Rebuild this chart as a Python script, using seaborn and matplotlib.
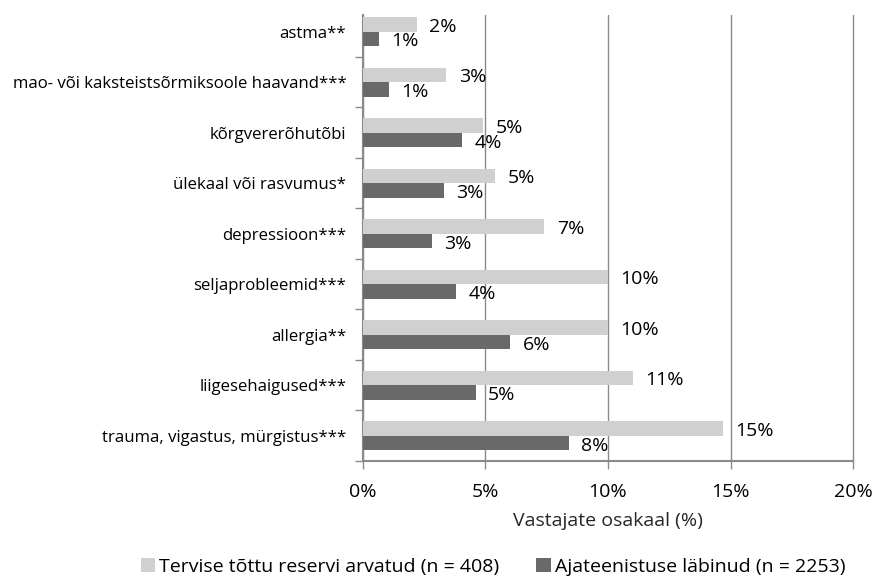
import matplotlib
matplotlib.use("Agg")
import matplotlib.pyplot as plt
import seaborn as sns
import pandas as pd
from matplotlib.patches import Patch
from matplotlib.ticker import FixedLocator, FuncFormatter

categories = [
    "astma**",
    "mao- või kaksteistsõrmiksoole haavand***",
    "kõrgvererõhutõbi",
    "ülekaal või rasvumus*",
    "depressioon***",
    "seljaprobleemid***",
    "allergia**",
    "liigesehaigused***",
    "trauma, vigastus, mürgistus***",
]
reserve = [2.2, 3.4, 4.9, 5.4, 7.4, 10.0, 10.0, 11.0, 14.7]
served = [0.65, 1.05, 4.05, 3.3, 2.8, 3.8, 6.0, 4.6, 8.4]
series = ["Tervise tõttu reservi arvatud (n = 408)", "Ajateenistuse läbinud (n = 2253)"]
colors = ["#d0d0d0", "#696969"]
xticks = [0, 5, 10, 15, 20]

df = pd.DataFrame({
    "kategooria": categories * 2,
    "grupp": [series[0]] * len(categories) + [series[1]] * len(categories),
    "osakaal": reserve + served,
})

sns.set_style("white")
plt.rcParams["font.family"] = ["Open Sans", "DejaVu Sans"]
plt.rcParams["text.color"] = "black"

fig, ax = plt.subplots(figsize=(8.78, 5.81), dpi=100)
fig.subplots_adjust(left=363 / 878, right=853 / 878, top=1 - 15 / 581, bottom=1 - 461 / 581)

sns.barplot(data=df, y="kategooria", x="osakaal", hue="grupp", order=categories,
            hue_order=series, palette=colors, width=0.58, orient="h",
            linewidth=0, ax=ax, legend=False, zorder=3)

for cont, vals in zip(ax.containers, [reserve, served]):
    texts = ax.bar_label(cont, labels=[f"{round(v):.0f}%" for v in vals], padding=9,
                         fontsize=14, color="black")
    for t in texts:
        t.xyann = (9, -1.8)  # Excel puts the labels a little below the bar centre

ax.set_xlim(0, 20)
ax.set_ylim(8.5, -0.33)
ax.xaxis.set_major_locator(FixedLocator(xticks))
ax.xaxis.set_major_formatter(FuncFormatter(lambda v, p: f"{v:.0f}%"))
ax.grid(axis="x", color="#8a8a8a", linewidth=1, zorder=0)
ax.grid(axis="y", visible=False)
for gl in ax.get_xgridlines():
    gl.set_clip_on(False)

ax.set_yticks(range(len(categories)))
ax.set_yticklabels(categories)
ax.yaxis.set_minor_locator(FixedLocator([i + 0.5 for i in range(-1, len(categories))]))
ax.tick_params(axis="y", which="major", length=0, pad=12, labelsize=12.1, labelcolor="black")
ax.tick_params(axis="y", which="minor", length=6, width=1, color="#8a8a8a", direction="out", left=True)
ax.tick_params(axis="x", which="major", length=6, width=1, color="#8a8a8a", direction="out",
               bottom=True, pad=10, labelsize=14, labelcolor="black")

for side in ["top", "right"]:
    ax.spines[side].set_visible(False)
for side in ["left", "bottom"]:
    ax.spines[side].set_color("#8a8a8a")
    ax.spines[side].set_linewidth(1.5)

ax.set_ylabel("")
ax.set_xlabel("Vastajate osakaal (%)", fontsize=14, labelpad=8)

handles = [Patch(facecolor=c, edgecolor="none") for c in colors]
fig.legend(handles, series, loc="center", bbox_to_anchor=(493 / 878, 1 - 567 / 581),
           ncol=2, frameon=False, fontsize=14, handlelength=0.75, handleheight=0.75,
           handletextpad=0.2, columnspacing=1.9)

fig.savefig("out.png", dpi=100)
